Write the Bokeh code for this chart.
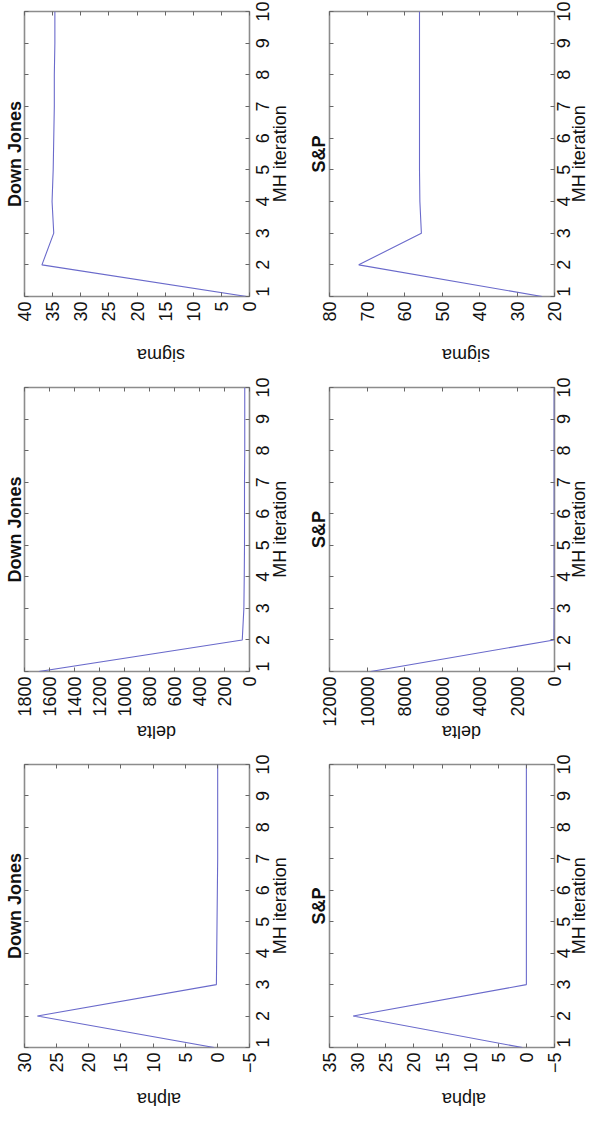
import math
from bokeh.plotting import figure
from bokeh.models import Range1d, FixedTicker, LinearAxis, CustomJSTickFormatter
from bokeh.layouts import column, row
from bokeh.embed import file_html
from bokeh.resources import INLINE

# ---- data ----
iterations = [1, 2, 3, 4, 5, 6, 7, 8, 9, 10]
iteration_ticks = [1, 2, 3, 4, 5, 6, 7, 8, 9, 10]
market_titles = ["Down Jones", "S&P"]
param_names = ["sigma", "delta", "alpha"]
x_label = "MH iteration"

sigma_dj = [0.5, 36.9, 34.8, 35.1, 34.9, 34.8, 34.7, 34.7, 34.6, 34.6]
sigma_sp = [23.3, 72.2, 55.5, 55.9, 56.0, 56.0, 56.0, 56.0, 56.0, 56.0]
delta_dj = [1685, 58, 45, 42, 40, 40, 40, 38, 38, 38]
delta_sp = [9800, 30, 20, 20, 20, 20, 20, 20, 20, 20]
alpha_dj = [0.5, 28.0, 0.15, 0.1, 0.05, 0.0, -0.05, -0.05, -0.05, -0.05]
alpha_sp = [0.7, 30.8, 0.0, 0.0, 0.0, 0.0, 0.0, 0.0, 0.0, 0.0]

sigma_dj_ticks = [0, 5, 10, 15, 20, 25, 30, 35, 40]
sigma_sp_ticks = [20, 30, 40, 50, 60, 70, 80]
delta_dj_ticks = [0, 200, 400, 600, 800, 1000, 1200, 1400, 1600, 1800]
delta_sp_ticks = [0, 2000, 4000, 6000, 8000, 10000, 12000]
alpha_dj_ticks = [-5, 0, 5, 10, 15, 20, 25, 30]
alpha_sp_ticks = [-5, 0, 5, 10, 15, 20, 25, 30, 35]

FONT = "Liberation Sans"
FS_PX = 18
FS = "%dpx" % FS_PX
DIGIT_W = 0.556 * FS_PX
XLABEL_W = 5.39 * FS_PX          # approx. rendered length of "MH iteration"
LINE_COLOR = "#6a6acb"
BOX_COLOR = "#8c8c8c"
TICK_COLOR = "#666666"
TEXT_COLOR = "#111111"


def set_orient(ax, val):
    try:
        ax.axis_label_orientation = val
    except Exception:
        pass


def base_style(ax):
    ax.axis_line_color = None
    ax.major_tick_out = 0
    ax.minor_tick_line_color = None
    ax.axis_label_text_font = FONT
    ax.axis_label_text_font_size = FS
    ax.axis_label_text_color = TEXT_COLOR
    ax.axis_label_text_font_style = "normal"
    ax.major_label_text_font = FONT
    ax.major_label_text_font_size = FS
    ax.major_label_text_color = TEXT_COLOR


def tick_only(ax):
    base_style(ax)
    ax.major_tick_in = 4
    ax.major_tick_line_color = TICK_COLOR
    ax.major_label_text_font_size = "0px"
    ax.major_label_text_color = None
    ax.major_label_standoff = 0


def label_only(ax, standoff):
    base_style(ax)
    ax.major_tick_line_color = None
    ax.major_tick_in = 0
    ax.major_label_orientation = math.pi / 2
    ax.major_label_standoff = standoff


def panel(values, ticks, name, title, fig_w, fig_h, left, right, top, bottom,
          title_so, name_so, tick_so, mh_so):
    p = figure(width=fig_w, height=fig_h, output_backend="svg",
               toolbar_location=None, x_axis_location=None, y_axis_location=None,
               min_border_left=left, min_border_right=right,
               min_border_top=top, min_border_bottom=bottom)
    p.x_range = Range1d(start=ticks[-1], end=ticks[0])   # value axis, reversed
    p.y_range = Range1d(start=iteration_ticks[0], end=iteration_ticks[-1])
    p.grid.visible = False
    p.background_fill_color = "white"
    p.border_fill_color = "white"
    p.outline_line_color = BOX_COLOR
    p.outline_line_width = 1.6
    fh = fig_h - top - bottom
    unit_px = fh / (iteration_ticks[-1] - iteration_ticks[0])

    overrides = {t: ("\u2212" + str(-t)) if t < 0 else str(t) for t in ticks}

    # value axis (below) with rotated labels and rotated name
    xb = LinearAxis(ticker=FixedTicker(ticks=ticks), major_label_overrides=overrides)
    base_style(xb)
    xb.major_tick_in = 4
    xb.major_tick_line_color = TICK_COLOR
    xb.major_label_orientation = math.pi / 2
    xb.major_label_standoff = 5
    xb.axis_label = name
    xb.axis_label_standoff = name_so
    set_orient(xb, math.pi)
    p.add_layout(xb, "below")

    xt = LinearAxis(ticker=FixedTicker(ticks=ticks))
    tick_only(xt)
    p.add_layout(xt, "above")

    # iteration ticks on the right edge
    yr = LinearAxis(ticker=FixedTicker(ticks=iteration_ticks))
    tick_only(yr)
    p.add_layout(yr, "right")

    # iteration labels (rotated), centred on their ticks where possible
    label_pos = [max(iteration_ticks[0], t - len(str(t)) * DIGIT_W / 2 / unit_px)
                 for t in iteration_ticks]
    yr_lab = LinearAxis(ticker=FixedTicker(ticks=label_pos),
                        formatter=CustomJSTickFormatter(code="return Math.round(tick).toString();"))
    label_only(yr_lab, tick_so)
    p.add_layout(yr_lab, "right")

    # "MH iteration" (rotated), centred along the right edge
    mid = (iteration_ticks[0] + iteration_ticks[-1]) / 2
    yr_name = LinearAxis(ticker=FixedTicker(ticks=[mid - XLABEL_W / 2 / unit_px]),
                         formatter=CustomJSTickFormatter(code="return '%s';" % x_label))
    label_only(yr_name, mh_so)
    p.add_layout(yr_name, "right")

    # mirror iteration ticks (left) carrying the panel title
    yl = LinearAxis(ticker=FixedTicker(ticks=iteration_ticks))
    tick_only(yl)
    yl.axis_label = title
    yl.axis_label_text_font_style = "bold"
    yl.axis_label_standoff = title_so
    p.add_layout(yl, "left")

    p.line(x=values, y=iterations, line_color=LINE_COLOR, line_width=1.1)
    return p


# per-row: data, ticks, name, fig height, top, bottom, name standoffs (DJ, S&P)
rows_spec = [
    (sigma_dj, sigma_dj_ticks, sigma_sp, sigma_sp_ticks, "sigma", 377, 11, 80, 30, 30),
    (delta_dj, delta_dj_ticks, delta_sp, delta_sp_ticks, "delta", 377, 10, 81, 12, 2),
    (alpha_dj, alpha_dj_ticks, alpha_sp, alpha_sp_ticks, "alpha", 368, 10, 73, 23, 23),
]

rows = []
for dj, djt, sp, spt, name, h, top, bottom, so1, so2 in rows_spec:
    p1 = panel(dj, djt, name, market_titles[0], 304, h, 24, 55, top, bottom,
               0, so1, 13, 2)
    p2 = panel(sp, spt, name, market_titles[1], 299, h, 25, 49, top, bottom,
               1, so2, 9, 0)
    rows.append(row(p1, p2, spacing=0))

layout = column(*rows, spacing=0)

open("out.html", "w").write(file_html(layout, INLINE))
